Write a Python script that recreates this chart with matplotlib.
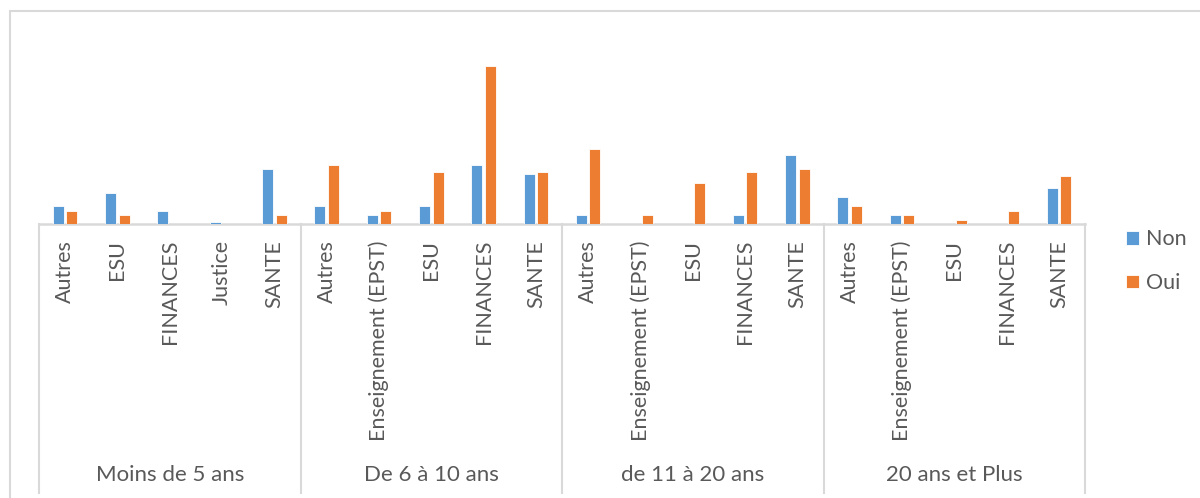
import matplotlib
matplotlib.use("Agg")
import matplotlib.pyplot as plt
from matplotlib.patches import Rectangle

plt.rcParams["font.family"] = ["Lato", "DejaVu Sans"]

# tranches d'ancienneté et secteurs dans chaque tranche
groups = ["Moins de 5 ans", "De 6 à 10 ans", "de 11 à 20 ans", "20 ans et Plus"]
sectors_g1 = ["Autres", "ESU", "FINANCES", "Justice", "SANTE"]
sectors_g2 = ["Autres", "Enseignement (EPST)", "ESU", "FINANCES", "SANTE"]
sectors_g3 = ["Autres", "Enseignement (EPST)", "ESU", "FINANCES", "SANTE"]
sectors_g4 = ["Autres", "Enseignement (EPST)", "ESU", "FINANCES", "SANTE"]

non_g1 = [4, 7, 3, 0.5, 12.4]
non_g2 = [4, 2, 4, 13.3, 11.2]
non_g3 = [2, 0, 0, 2, 15.4]
non_g4 = [6.1, 2, 0, 0, 8.2]

oui_g1 = [3, 2, 0, 0, 2]
oui_g2 = [13.3, 3, 11.7, 35.5, 11.7]
oui_g3 = [16.9, 2, 9.2, 11.7, 12.4]
oui_g4 = [4, 2, 0.9, 3, 10.7]

BLUE = "#5B9BD5"
ORANGE = "#ED7D31"
GRID = "#D9D9D9"
TXT = "#595959"

sectors = sectors_g1 + sectors_g2 + sectors_g3 + sectors_g4
non = non_g1 + non_g2 + non_g3 + non_g4
oui = oui_g1 + oui_g2 + oui_g3 + oui_g4
sizes = [len(sectors_g1), len(sectors_g2), len(sectors_g3), len(sectors_g4)]
x = list(range(len(sectors)))

fig = plt.figure(figsize=(12, 4.98), dpi=100)
ax = fig.add_axes([39 / 1200, 0.55, (1085 - 39) / 1200, 0.39])

w = 0.21
ax.bar([i - 0.13 for i in x], non, w, color=BLUE, edgecolor="white",
       linewidth=0.6, label="Non")
ax.bar([i + 0.13 for i in x], oui, w, color=ORANGE, edgecolor="white",
       linewidth=0.6, label="Oui")

ax.set_xlim(-0.5, len(sectors) - 0.5)
ax.set_ylim(0, 43.6)
for s in ax.spines.values():
    s.set_visible(False)
ax.set_xticks([])
ax.set_yticks([])
ax.axhline(0, color=GRID, lw=1.8, clip_on=False, zorder=0)

axh = 0.39 * 498
xt = ax.get_xaxis_transform()

# séparateurs de groupes
start = -0.5
bounds = [start]
for n in sizes:
    start += n
    bounds.append(start)
for b in bounds:
    ax.plot([b, b], [0, -(493 - 224) / axh], color=GRID, lw=1.5,
            transform=xt, clip_on=False)

# libellés des secteurs
for i, s in enumerate(sectors):
    ax.text(i, -(240 - 224) / axh, s, rotation=90, ha="center", va="top",
            fontsize=15.5, color=TXT, transform=xt)

# libellés des tranches
for g, (a, b) in zip(groups, zip(bounds[:-1], bounds[1:])):
    ax.text((a + b) / 2, -(475 - 224) / axh, g, ha="center", va="center",
            fontsize=16, color=TXT, transform=xt)

leg = ax.legend(loc="upper left", bbox_to_anchor=(1107 / 1200, 1 - 210 / 498),
                bbox_transform=fig.transFigure, frameon=False, fontsize=15.5,
                handlelength=0.6, handleheight=0.6, handletextpad=0.3,
                labelspacing=1.1)
for t in leg.get_texts():
    t.set_color(TXT)

# cadre extérieur
fig.patches.append(Rectangle((10 / 1200, -0.2), 1.2, 1.2 - 11 / 498,
                             transform=fig.transFigure, fill=False,
                             edgecolor=GRID, lw=1.5))

fig.savefig("out.png", dpi=100, facecolor="white")
